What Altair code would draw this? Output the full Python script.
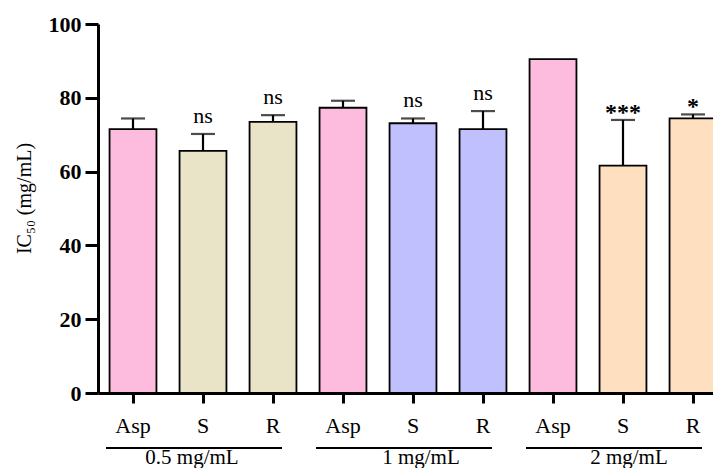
import altair as alt
import pandas as pd

# ---- data ----
groups = ["0.5 mg/mL"] * 3 + ["1 mg/mL"] * 3 + ["2 mg/mL"] * 3
labels = ["Asp", "S", "R", "Asp", "S", "R", "Asp", "S", "R"]
means = [71.5, 65.6, 73.5, 77.3, 73.1, 71.5, 90.5, 61.6, 74.4]
errors = [2.9, 4.6, 1.8, 1.9, 1.3, 4.9, 0.0, 12.4, 1.1]
signif = ["", "ns", "ns", "", "ns", "ns", "", "***", "*"]
colors = ["#FDBBDD", "#E9E4C8", "#E9E4C8", "#FDBBDD", "#C0C0FE", "#C0C0FE",
          "#FDBBDD", "#FEDFBF", "#FEDFBF"]
y_ticks = [0, 20, 40, 60, 80, 100]
group_names = ["0.5 mg/mL", "1 mg/mL", "2 mg/mL"]

keys = [f"{l}|{g}" for l, g in zip(labels, groups)]
df = pd.DataFrame({
    "key": keys, "label": labels, "group": groups, "mean": means,
    "err": errors, "upper": [m + e for m, e in zip(means, errors)],
    "sig": signif, "color": colors,
})

gdf = pd.DataFrame({
    "group": group_names,
    "first": [keys[i * 3] for i in range(3)],
    "mid": [keys[i * 3 + 1] for i in range(3)],
    "last": [keys[i * 3 + 2] for i in range(3)],
})

FONT = "Liberation Serif"
PLOT_W, PLOT_H = 615, 369
RANGE_W = 630

xscale = alt.Scale(domain=keys, range=[0, RANGE_W], paddingInner=0.33, paddingOuter=0.165)
yscale = alt.Scale(domain=[0, 100], nice=False, zero=True)

x_axis = alt.Axis(
    title=None, labelExpr="split(datum.value, '|')[0]", labelAngle=0,
    labelFont=FONT, labelFontSize=22, labelColor="black", labelPadding=12,
    tickSize=10, tickWidth=3, tickColor="black",
    domainWidth=3, domainColor="black", grid=False,
)
y_axis = alt.Axis(
    title="IC₅₀ (mg/mL)", values=y_ticks, labelFont=FONT, labelFontSize=22,
    labelFontWeight="bold", labelColor="black", labelPadding=4,
    tickSize=13, tickWidth=3, tickColor="black", domainWidth=3,
    domainColor="black", grid=False, titleFont=FONT, titleFontSize=20,
    titleFontWeight="normal", titleColor="black", titleAngle=270,
    titleX=-74, titleY=174, titleAlign="center", titleBaseline="middle",
)

base = alt.Chart(df)

bars = base.mark_bar(stroke="black", strokeWidth=1.8).encode(
    x=alt.X("key:N", scale=xscale, axis=x_axis, sort=keys),
    y=alt.Y("mean:Q", scale=yscale, axis=y_axis),
    fill=alt.Fill("color:N", scale=None),
)

err_df_filter = alt.datum.err > 0
stems = base.transform_filter(err_df_filter).mark_rule(color="black", strokeWidth=2.2).encode(
    x=alt.X("key:N", sort=keys), y="mean:Q", y2="upper:Q",
)
caps = base.transform_filter(err_df_filter).mark_tick(
    color="black", thickness=2.2, size=24, orient="horizontal"
).encode(x=alt.X("key:N", sort=keys), y="upper:Q")

ns_text = base.transform_filter(alt.datum.sig == "ns").mark_text(
    font=FONT, fontSize=22, baseline="alphabetic", dy=-11, color="black"
).encode(x=alt.X("key:N", sort=keys), y="upper:Q", text="sig:N")

star_text = base.transform_filter(
    (alt.datum.sig == "*") | (alt.datum.sig == "***")
).mark_text(
    font=FONT, fontSize=24, fontWeight="bold", baseline="alphabetic", dy=0, color="black"
).encode(x=alt.X("key:N", sort=keys), y="upper:Q", text="sig:N")

gbase = alt.Chart(gdf)
underline = gbase.mark_rule(color="black", strokeWidth=2, xOffset=-27, x2Offset=9).encode(
    x=alt.X("first:N", sort=keys), x2="last:N", y=alt.value(PLOT_H + 55),
)

label_dx = [-11, 8, 6]
glabels = [
    gbase.transform_filter(alt.datum.group == g).mark_text(
        font=FONT, fontSize=21, baseline="alphabetic", color="black", dx=d
    ).encode(x=alt.X("mid:N", sort=keys), y=alt.value(PLOT_H + 71), text="group:N")
    for g, d in zip(group_names, label_dx)
]

chart = alt.layer(bars, stems, caps, ns_text, star_text, underline, *glabels).properties(
    width=PLOT_W, height=PLOT_H,
    autosize=alt.AutoSizeParams(type="none"),
    padding={"left": 90, "top": 16, "right": 0, "bottom": 75},
).configure_view(stroke=None)

chart.save("out.html", embed_options={"renderer": "svg", "actions": False})
